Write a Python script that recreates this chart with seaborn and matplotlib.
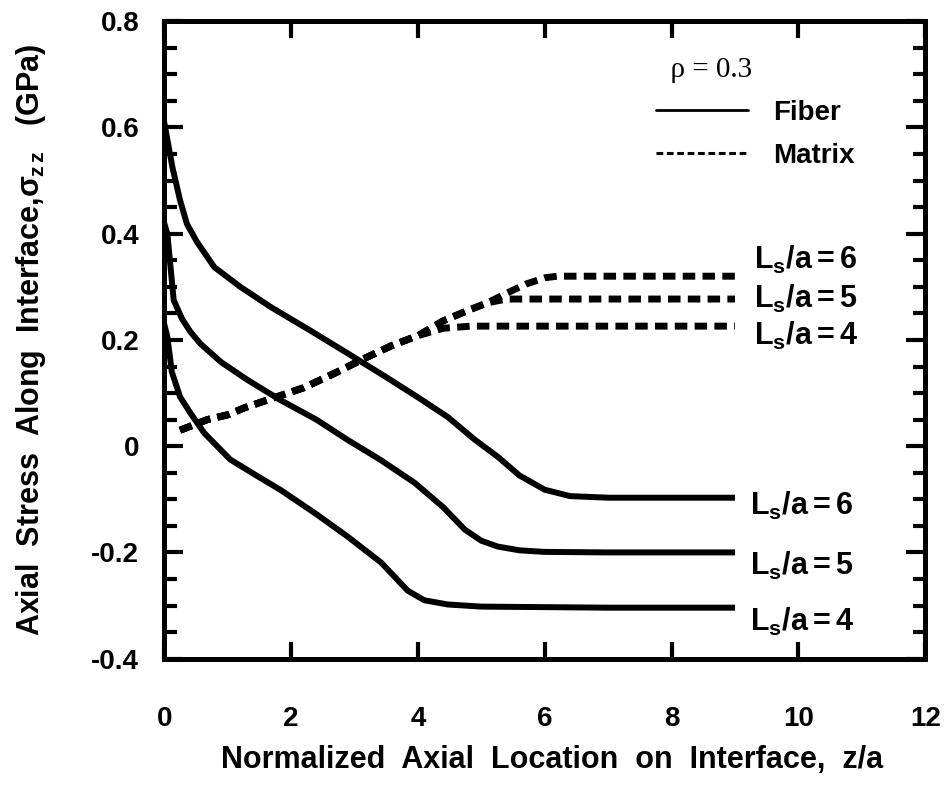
import numpy as np
import pandas as pd
import matplotlib
matplotlib.use("Agg")
import matplotlib.pyplot as plt
from matplotlib.lines import Line2D
from matplotlib.ticker import MultipleLocator
import seaborn as sns


# Data (z/a, sigma_zz in GPa)

fiber6_x = [0, 0.13, 0.25, 0.36, 0.52, 0.79, 1.2, 1.68, 2.3, 2.89, 3.5, 4.0, 4.47, 4.9, 5.26, 5.6, 6.0, 6.4, 7.0, 8.0, 9.0]
fiber6_y = [0.61, 0.525, 0.463, 0.418, 0.384, 0.337, 0.30, 0.262, 0.218, 0.175, 0.13, 0.092, 0.055, 0.012, -0.02, -0.055, -0.082, -0.094, -0.097, -0.097, -0.097]

fiber5_x = [0, 0.05, 0.15, 0.28, 0.41, 0.57, 0.9, 1.31, 1.83, 2.4, 2.89, 3.4, 3.95, 4.4, 4.74, 5.0, 5.26, 5.6, 6.0, 7.0, 8.0, 9.0]
fiber5_y = [0.42, 0.40, 0.275, 0.24, 0.216, 0.193, 0.158, 0.125, 0.087, 0.05, 0.012, -0.025, -0.069, -0.115, -0.157, -0.178, -0.189, -0.196, -0.199, -0.2, -0.2, -0.2]

fiber4_x = [0, 0.05, 0.12, 0.25, 0.41, 0.63, 1.04, 1.52, 1.83, 2.4, 2.89, 3.42, 3.84, 4.1, 4.47, 5.0, 6.0, 7.0, 8.0, 9.0]
fiber4_y = [0.23, 0.206, 0.14, 0.093, 0.063, 0.025, -0.025, -0.06, -0.082, -0.128, -0.17, -0.219, -0.272, -0.29, -0.298, -0.302, -0.303, -0.304, -0.304, -0.304]

matrix4_x = [0.25, 0.68, 1.0, 1.26, 1.63, 2.2, 2.7, 3.1, 3.6, 4.0, 4.4, 4.84, 6.0, 7.0, 8.0, 9.0]
matrix4_y = [0.03, 0.05, 0.059, 0.072, 0.087, 0.11, 0.138, 0.162, 0.19, 0.208, 0.222, 0.226, 0.226, 0.226, 0.226, 0.226]

matrix5_x = [0.25, 0.68, 1.0, 1.26, 1.63, 2.2, 2.7, 3.1, 3.6, 4.0, 4.4, 4.8, 5.1, 5.4, 6.0, 7.0, 8.0, 9.0]
matrix5_y = [0.03, 0.05, 0.059, 0.072, 0.087, 0.11, 0.138, 0.162, 0.19, 0.208, 0.236, 0.256, 0.27, 0.277, 0.277, 0.277, 0.277, 0.277]

matrix6_x = [0.25, 0.68, 1.0, 1.26, 1.63, 2.2, 2.7, 3.1, 3.6, 4.0, 4.4, 4.8, 5.1, 5.4, 5.7, 6.0, 6.2, 7.0, 8.0, 9.0]
matrix6_y = [0.03, 0.05, 0.059, 0.072, 0.087, 0.11, 0.138, 0.162, 0.19, 0.208, 0.236, 0.256, 0.27, 0.288, 0.305, 0.317, 0.32, 0.32, 0.32, 0.32]

curve_labels = [r"$\mathbf{L_s/a=6}$", r"$\mathbf{L_s/a=5}$", r"$\mathbf{L_s/a=4}$"]

x_ticks = [0, 2, 4, 6, 8, 10, 12]
x_tick_labels = ["0", "2", "4", "6", "8", "10", "12"]
y_ticks = [-0.4, -0.2, 0, 0.2, 0.4, 0.6, 0.8]
y_tick_labels = ["-0.4", "-0.2", "0", "0.2", "0.4", "0.6", "0.8"]


# Style

sns.set_theme(style="ticks")

plt.rcParams["font.family"] = ["Liberation Sans", "DejaVu Sans"]
plt.rcParams["font.weight"] = "bold"
plt.rcParams["text.color"] = "black"
plt.rcParams["axes.labelcolor"] = "black"
plt.rcParams["xtick.color"] = "black"
plt.rcParams["ytick.color"] = "black"
plt.rcParams["mathtext.fontset"] = "custom"
plt.rcParams["mathtext.rm"] = "Liberation Sans:bold"
plt.rcParams["mathtext.it"] = "Liberation Sans:bold"
plt.rcParams["mathtext.bf"] = "Liberation Sans:bold"

fig, ax = plt.subplots(figsize=(9.49, 7.86), dpi=100)
fig.subplots_adjust(left=0.173, right=0.975, bottom=0.162, top=0.973)


# Curves

fiber_lw = 4.3
matrix_lw = 5.0

fibers = [(fiber6_x, fiber6_y), (fiber5_x, fiber5_y), (fiber4_x, fiber4_y)]
matrices = [(matrix6_x, matrix6_y), (matrix5_x, matrix5_y), (matrix4_x, matrix4_y)]

for xs, ys in fibers:
    sns.lineplot(x=xs, y=ys, ax=ax, color="black", linewidth=fiber_lw,
                 estimator=None, sort=False,
                 solid_joinstyle="round", solid_capstyle="butt")

for xs, ys in matrices:
    sns.lineplot(x=xs, y=ys, ax=ax, color="black", linewidth=matrix_lw,
                 estimator=None, sort=False,
                 linestyle=(0, (1.8, 1.05)), dash_capstyle="butt")


# Curve labels

matrix_offsets = [12, 0, -7]
fiber_offsets = [-6, -10, -10]

for (xs, ys), label, dy in zip(matrices, curve_labels, matrix_offsets):
    ax.annotate(label, xy=(xs[-1], ys[-1]), xytext=(14, dy),
                textcoords="offset points", ha="left", va="center",
                fontsize=22)

for (xs, ys), label, dy in zip(fibers, curve_labels, fiber_offsets):
    ax.annotate(label, xy=(xs[-1], ys[-1]), xytext=(11, dy),
                textcoords="offset points", ha="left", va="center",
                fontsize=22)


# Legend

handles = [
    Line2D([], [], color="black", linewidth=2.0),
    Line2D([], [], color="black", linewidth=2.2, linestyle=(0, (2.2, 1.2))),
]

legend = ax.legend(handles, ["Fiber", "Matrix"],
                   loc="upper right", bbox_to_anchor=(0.925, 0.965),
                   frameon=False, fontsize=20, handlelength=3.3,
                   handletextpad=0.9, labelspacing=0.6, borderpad=0,
                   title=r"  ρ = 0.3", alignment="left")
legend.get_title().set_fontfamily(["Liberation Serif", "DejaVu Serif"])
legend.get_title().set_fontweight("normal")
legend.get_title().set_fontsize(21)


# Axes

ax.set_xlim(0, 12)
ax.set_ylim(-0.4, 0.8)

ax.set_xticks(x_ticks)
ax.set_xticklabels(x_tick_labels)
ax.set_yticks(y_ticks)
ax.set_yticklabels(y_tick_labels)
ax.yaxis.set_minor_locator(MultipleLocator(0.05))

ax.tick_params(axis="x", which="major", direction="in", top=True, bottom=True,
               length=12, width=3, pad=34, labelsize=20)
ax.tick_params(axis="y", which="major", direction="in", left=True, right=True,
               length=14, width=3, pad=18, labelsize=20)
ax.tick_params(axis="y", which="minor", direction="in", left=True, right=True,
               length=9, width=3)

for spine in ax.spines.values():
    spine.set_linewidth(3.6)
    spine.set_color("black")

ax.set_xlabel("Normalized  Axial  Location  on  Interface,  z/a",
              fontsize=22, fontweight="bold")
ax.set_ylabel(r"Axial  Stress  Along  Interface,$\sigma_{z\,z}$   (GPa)",
              fontsize=22, fontweight="bold")
ax.xaxis.set_label_coords(0.51, -0.135)
ax.yaxis.set_label_coords(-0.152, 0.5)

ax.grid(False)

plt.savefig("out.png", dpi=100)
plt.close()
